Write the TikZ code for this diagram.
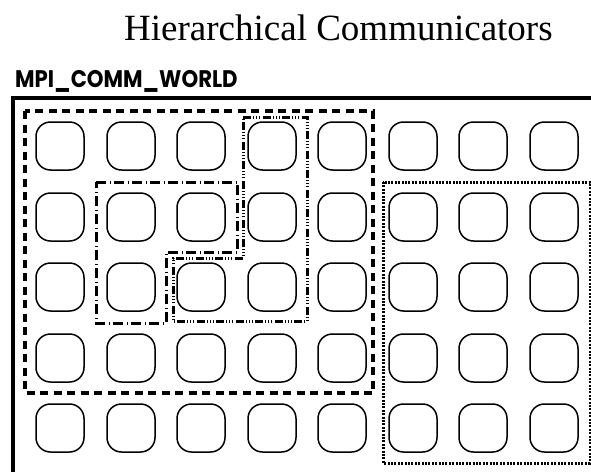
\documentclass[tikz,border=0pt]{standalone}
\usepackage{fontspec}
\usepackage{graphicx}
\setmainfont{Liberation Serif}
\newfontfamily\geofont{Poppins}
\begin{document}
\begin{tikzpicture}[x=1pt,y=-1pt,
  cell/.style={draw=black,line width=1.5pt,minimum width=48pt,minimum height=48pt,inner sep=0pt,rounded corners=14.5pt},
  frame/.style={line width=3.2pt},
  outerdash/.style={line width=3.2pt,dash pattern=on 8pt off 5.5pt},
  dotbox/.style={line width=3pt,dash pattern=on 2pt off 1.4pt},
  dashdot/.style={line width=3pt,dash pattern=on 10pt off 3.5pt on 1pt off 3.5pt},
  dashtriple/.style={line width=3pt,dash pattern=on 8pt off 2.2pt on 0.9pt off 2.2pt on 0.9pt off 2.2pt on 0.9pt off 2.2pt},
  ttl/.style={font=\fontsize{37}{40}\selectfont,inner sep=0pt,anchor=base west},
  lbl/.style={font=\geofont\bfseries\fontsize{24}{26}\selectfont,inner sep=0pt,anchor=base west}]
\useasboundingbox (0,0) rectangle (591,471);
% title and label
\node[ttl] (title) at (124,40) {Hierarchical Communicators};
\node[lbl] (world) at (15,87) {\scalebox{0.885}[1]{MPI\_COMM\_WORLD}};
% outer frame (only top and left visible)
\draw[frame,line cap=rect] (13,480) -- (13,98) -- (600,98);
% cells
\foreach \r/\y in {1/146,2/217,3/287,4/358,5/428}{
  \foreach \c/\x in {1/60,2/131,3/201,4/272,5/342,6/413,7/483,8/554}{
    \node[cell] (c\r-\c) at (\x,\y) {};
  }
}
% communicator groups
\draw[outerdash] (25,111) rectangle (373,393);
\draw[dotbox] (383,182) rectangle (590,463);
\draw[dashdot] (96,182) -- (237,182) -- (237,252) -- (166,252) -- (166,323) -- (96,323) -- cycle;
\draw[dashtriple] (243,117) -- (307,117) -- (307,321) -- (173,321) -- (173,258) -- (243,258) -- cycle;
\end{tikzpicture}
\end{document}
